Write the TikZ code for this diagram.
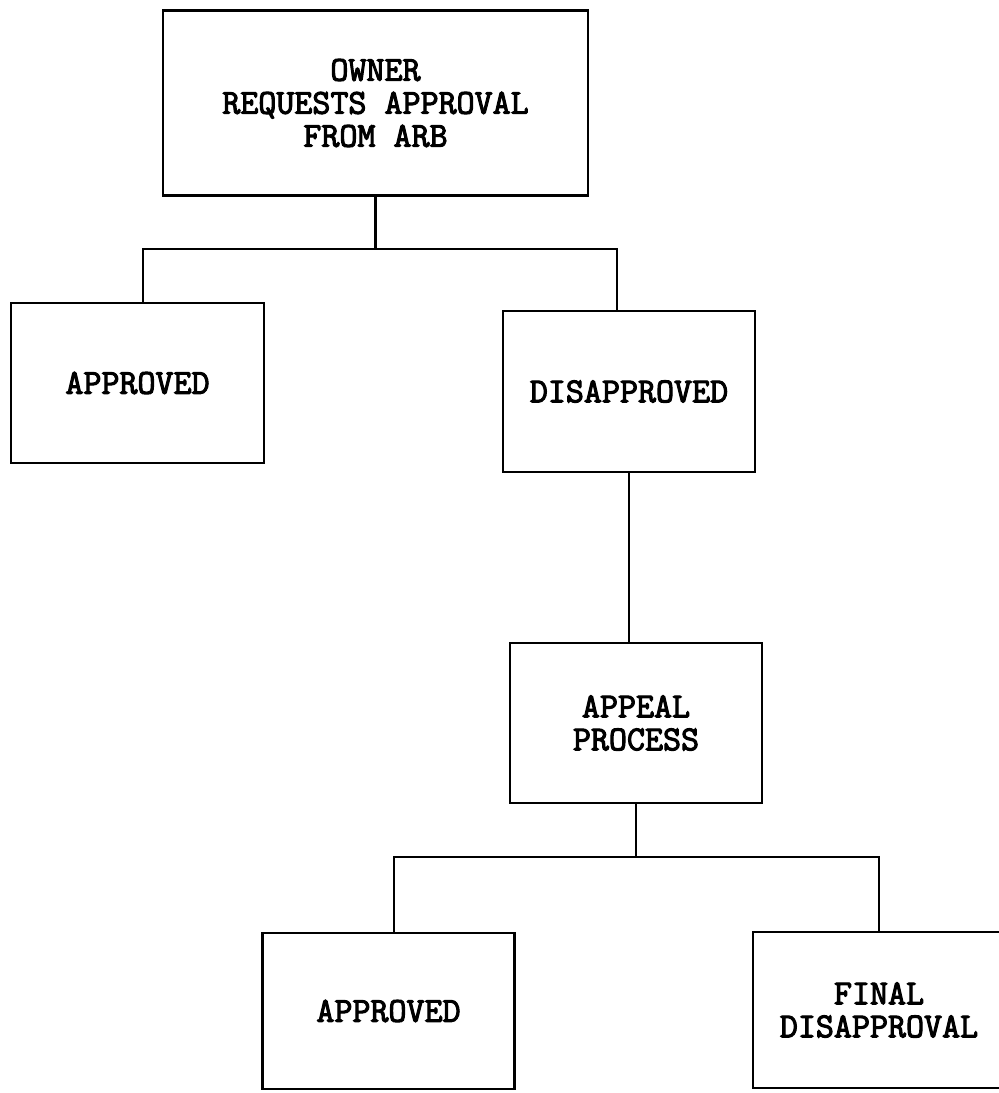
\documentclass[tikz,border=0pt]{standalone}
\usepackage{fontspec}
\newfontfamily\boxfont{Latin Modern Mono}[FakeBold=3]

\begin{document}
\begin{tikzpicture}[
    x=1pt,
    y=-1pt,
    line width=2.8pt,
    box/.style={
      draw,
      rectangle,
      minimum width=252pt,
      minimum height=160pt,
      inner sep=0pt,
      align=center,
      font=\boxfont\fontsize{35}{33}\selectfont
    },
    ]

    \useasboundingbox (0,0) rectangle (999,1093);

    \node[box, minimum width=425pt, minimum height=185pt] (owner) at (375.5,103)
      {OWNER\\REQUESTS APPROVAL\\FROM ARB};
    \node[box, minimum width=253pt] (approved) at (137.5,383) {APPROVED};
    \node[box, minimum height=161pt] (disapproved) at (629,391.5) {DISAPPROVED};
    \node[box] (appeal) at (636,723) {APPEAL\\PROCESS};
    \node[box, minimum height=156pt] (reapproved) at (388.5,1011) {APPROVED};
    \node[box, minimum height=156pt] (final) at (879,1010) {FINAL\\DISAPPROVAL};

    \coordinate (split) at (375.5,249);
    \coordinate (appealsplit) at (636,857);

    \draw (owner.south) -- (split);
    \draw ([xshift=5.5pt]approved.north) |- (split) -| ([xshift=-12pt]disapproved.north);
    \draw (disapproved.south) -- ([xshift=-7pt]appeal.north);
    \draw (appeal.south) -- (appealsplit);
    \draw ([xshift=5.5pt]reapproved.north) |- (appealsplit) -| (final.north);

  \end{tikzpicture}
\end{document}
